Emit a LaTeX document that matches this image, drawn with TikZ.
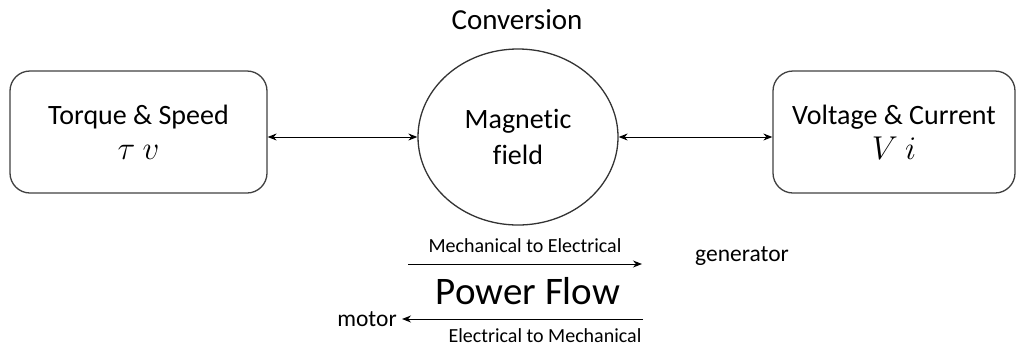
\RequirePackage{fix-cm}
\documentclass[tikz,border=0pt]{standalone}
\usepackage{fontspec}
\setmainfont{Carlito}[Ligatures=NoCommon]
\usetikzlibrary{shapes.geometric,arrows.meta}
\begin{document}
\begin{tikzpicture}[x=1pt,y=-1pt,
  blk/.style={draw=black!75,line width=1.3pt,rounded corners=20pt,inner sep=0pt,align=center,font=\fontsize{28}{36}\selectfont},
  conv/.style={draw=black!80,line width=1.3pt,ellipse,inner sep=0pt,minimum width=200pt,minimum height=176pt,align=center,font=\fontsize{28}{36}\selectfont},
  lbl/.style={inner sep=0pt,font=\fontsize{#1}{#1}\selectfont},
  conn/.style={line width=1pt,-{Stealth[length=9pt,width=7pt]}},
  biconn/.style={line width=1pt,{Stealth[length=9pt,width=7pt]}-{Stealth[length=9pt,width=7pt]}}]
\useasboundingbox (0,0) rectangle (1019,346);
\node[blk,minimum width=257pt,minimum height=122pt] (L) at (138.5,132) {Torque \& Speed\\[-1pt]{\fontsize{33}{36}\selectfont$\tau\ v$}};
\node[blk,minimum width=242pt,minimum height=122pt] (R) at (894,132) {Voltage \& Current\\[-1pt]{\fontsize{33}{36}\selectfont$V\ i$}};
\node[conv] (M) at (518,137) {Magnetic\\field};
\node[lbl=29] (conv) at (517,20) {Conversion};
\draw[biconn] (M.west -| L.east) -- (M.west);
\draw[biconn] (M.east) -- (M.east -| R.west);
\coordinate (a1) at (408,264);
\coordinate (a2) at (642,264);
\coordinate (b1) at (643,319);
\coordinate (b2) at (402,319);
\draw[conn] (a1) -- (a2);
\draw[conn] (b1) -- (b2);
\node[lbl=20] (me) at (525,246) {Mechanical to Electrical};
\node[lbl=39] (pf) at (528,291) {Power Flow};
\node[lbl=20] (em) at (545,336) {Electrical to Mechanical};
\node[lbl=23.5] (gen) at (742,256) {generator};
\node[lbl=23.5] (mot) at (367,319) {motor};
\end{tikzpicture}
\end{document}
